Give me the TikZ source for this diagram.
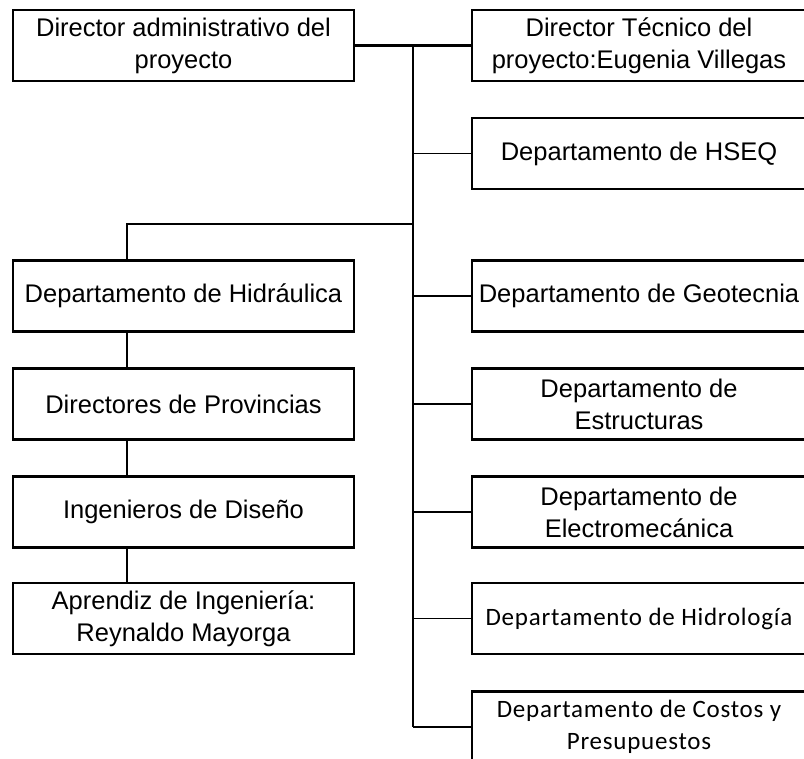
\documentclass[tikz,border=0pt]{standalone}
\usepackage{fontspec}
\setmainfont{Liberation Sans}
\newfontfamily\calibrifont[LetterSpace=3]{Carlito}
\usepackage{tikz}
\usetikzlibrary{positioning}
\tikzset{
  orgbox/.style={draw, line width=2.3pt, inner sep=0pt, minimum height=71pt, align=center,
    font=\fontsize{25.5}{32}\selectfont},
  leftbox/.style={orgbox, minimum width=341pt},
  rightbox/.style={orgbox, minimum width=334pt},
  calbox/.style={rightbox, font=\calibrifont\fontsize{25}{32}\selectfont},
  link/.style={line width=1.7pt},
  toplink/.style={line width=2.3pt}
}

\begin{document}
\begin{tikzpicture}[x=1pt,y=-1pt]
\useasboundingbox (0,0) rectangle (804,759);
\clip (0,0) rectangle (804,759);
% Top row
\node[leftbox] (admin) at (183.5,45.5) {Director administrativo del\\proyecto};
\node[rightbox] (tecnico) at (639,45.5) {Director Técnico del\\proyecto:Eugenia Villegas};
% Left column
\node[leftbox] (hidraulica) at (183.5,296) {Departamento de Hidráulica};
\node[leftbox] (provincias) at (183.5,404) {Directores de Provincias};
\node[leftbox] (disenio) at (183.5,512) {Ingenieros de Diseño};
\node[leftbox] (aprendiz) at (183.5,618.5) {Aprendiz de Ingeniería:\\Reynaldo Mayorga};
% Right column
\node[rightbox] (hseq) at (639,153.5) {Departamento de HSEQ};
\node[rightbox] (geotecnia) at (639,296) {Departamento de Geotecnia};
\node[rightbox] (estructuras) at (639,404) {Departamento de\\Estructuras};
\node[rightbox] (electro) at (639,512) {Departamento de\\Electromecánica};
\node[calbox] (hidrologia) at (639,618.5) {Departamento de Hidrología};
\node[calbox] (costos) at (639,727) {Departamento de Costos y\\Presupuestos};
% Trunk and branches
\coordinate (ttop) at (413,45.5);
\coordinate (tbot) at (413,727);
\coordinate (split) at (413,224);
\coordinate (lx) at (127,224);
\draw[toplink] (admin) -- (tecnico);
\draw[link] (ttop) -- (tbot);
\foreach \n in {hseq,geotecnia,estructuras,electro,hidrologia,costos}
  \draw[link] (ttop |- \n.west) -- (\n.west);
\draw[link] (split) -- (lx) -- (lx |- hidraulica.north);
\draw[link] (lx |- hidraulica.south) -- (lx |- provincias.north);
\draw[link] (lx |- provincias.south) -- (lx |- disenio.north);
\draw[link] (lx |- disenio.south) -- (lx |- aprendiz.north);
\end{tikzpicture}
\end{document}
